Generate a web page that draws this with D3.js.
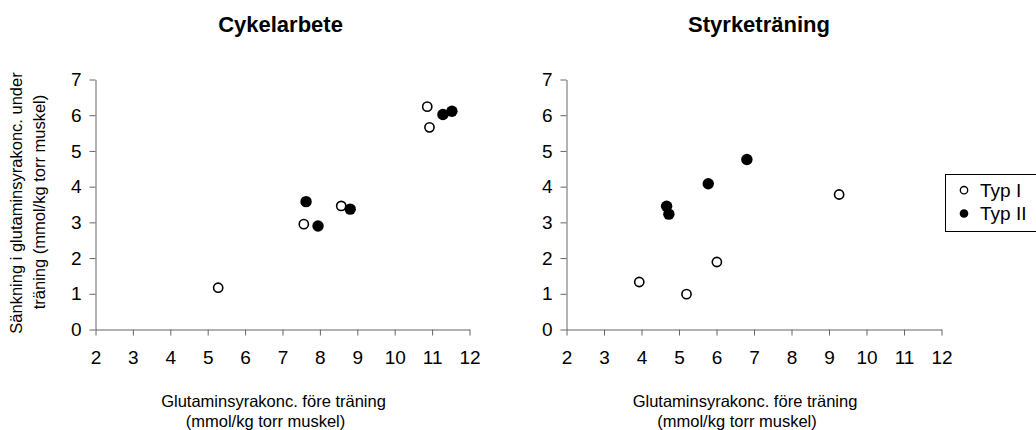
<!DOCTYPE html>
<html>
<head>
<meta charset="utf-8">
<script src="https://cdn.jsdelivr.net/npm/d3@7"></script>
<style>
  html, body { margin: 0; padding: 0; background: #fff; }
  svg { display: block; font-family: "Liberation Sans", Arial, sans-serif; }
</style>
</head>
<body>
<svg id="chart" width="1036" height="430"></svg>
<script>
// ---- data ----
const xTicks = [2, 3, 4, 5, 6, 7, 8, 9, 10, 11, 12];
const yTicks = [0, 1, 2, 3, 4, 5, 6, 7];
const panelTitles = ["Cykelarbete", "Styrketräning"];
const seriesNames = ["Typ I", "Typ II"];
const xTitleLines = ["Glutaminsyrakonc. före träning", "(mmol/kg torr muskel)"];
const yTitleLines = ["Sänkning i glutaminsyrakonc. under", "träning (mmol/kg torr muskel)"];

const cykelTypIX  = [5.28, 7.57, 8.57, 10.87, 10.93];
const cykelTypIY  = [1.17, 2.95, 3.46, 6.24, 5.66];
const cykelTypIIX = [7.63, 7.95, 8.81, 11.29, 11.53];
const cykelTypIIY = [3.58, 2.90, 3.37, 6.02, 6.11];

const styrkeTypIX  = [3.94, 5.20, 6.01, 9.27];
const styrkeTypIY  = [1.33, 0.99, 1.89, 3.78];
const styrkeTypIIX = [4.67, 4.73, 5.78, 6.81];
const styrkeTypIIY = [3.45, 3.23, 4.08, 4.76];

// ---- layout ----
const svg = d3.select("#chart");
const axisColor = "#666";
const panels = [
  { title: panelTitles[0], x0: 95.5, x1: 469.5, typI: [cykelTypIX, cykelTypIY], typII: [cykelTypIIX, cykelTypIIY], titleDx: -2, showYTitle: true },
  { title: panelTitles[1], x0: 566.5, x1: 941.5, typI: [styrkeTypIX, styrkeTypIY], typII: [styrkeTypIIX, styrkeTypIIY], titleDx: 5, showYTitle: false }
];
const yTop = 79.5, yBottom = 329.5;

panels.forEach(p => {
  const x = d3.scaleLinear().domain([2, 12]).range([p.x0, p.x1]);
  const y = d3.scaleLinear().domain([0, 7]).range([yBottom, yTop]);
  const g = svg.append("g");

  // axes
  const xAxis = d3.axisBottom(x).tickValues(xTicks).tickFormat(d3.format("d"))
    .tickSize(6).tickSizeOuter(0).tickPadding(15);
  const yAxis = d3.axisLeft(y).tickValues(yTicks).tickFormat(d3.format("d"))
    .tickSize(6).tickSizeOuter(0).tickPadding(8);

  const gx = g.append("g").attr("transform", `translate(0,${yBottom})`).call(xAxis);
  const gy = g.append("g").attr("transform", `translate(${p.x0},0)`).call(yAxis);
  [gx, gy].forEach(a => {
    a.select(".domain").attr("stroke", axisColor).attr("stroke-width", 1);
    a.selectAll(".tick line").attr("stroke", axisColor).attr("stroke-width", 1);
    a.selectAll(".tick text").attr("fill", "#000").style("font-size", "19px")
      .style("font-family", '"Liberation Sans", Arial, sans-serif');
  });

  const mid = (p.x0 + p.x1) / 2;
  // title
  g.append("text").attr("x", mid + p.titleDx).attr("y", 32)
    .attr("text-anchor", "middle").style("font-size", "22px").style("font-weight", "bold")
    .text(p.title);

  // x title
  g.append("text").attr("x", mid - 9).attr("y", 407).attr("text-anchor", "middle")
    .style("font-size", "16.5px").text(xTitleLines[0]);
  g.append("text").attr("x", mid - 17).attr("y", 426.5).attr("text-anchor", "middle")
    .style("font-size", "16.5px").text(xTitleLines[1]);

  if (p.showYTitle) {
    g.append("text").attr("transform", "translate(21.8,203) rotate(-90)")
      .attr("text-anchor", "middle").style("font-size", "16.5px").text(yTitleLines[0]);
    g.append("text").attr("transform", "translate(44.5,202) rotate(-90)")
      .attr("text-anchor", "middle").style("font-size", "16.5px").text(yTitleLines[1]);
  }

  // points
  const open = p.typI[0].map((v, i) => [v, p.typI[1][i]]);
  const filled = p.typII[0].map((v, i) => [v, p.typII[1][i]]);
  g.selectAll("circle.typI").data(open).join("circle").attr("class", "typI")
    .attr("cx", d => x(d[0])).attr("cy", d => y(d[1])).attr("r", 4.6)
    .attr("fill", "#fff").attr("stroke", "#000").attr("stroke-width", 1.6);
  g.selectAll("circle.typII").data(filled).join("circle").attr("class", "typII")
    .attr("cx", d => x(d[0])).attr("cy", d => y(d[1])).attr("r", 5.7)
    .attr("fill", "#000");
});

// legend
const lg = svg.append("g");
lg.append("rect").attr("x", 945.5).attr("y", 174.5).attr("width", 100).attr("height", 57)
  .attr("fill", "#fff").attr("stroke", "#000").attr("stroke-width", 1);
seriesNames.forEach((name, i) => {
  const base = 196.7 + i * 23.3;
  lg.append("circle").attr("cx", 964).attr("cy", base - 6.5).attr("r", i === 0 ? 3.7 : 4.3)
    .attr("fill", i === 0 ? "#fff" : "#000").attr("stroke", "#000").attr("stroke-width", i === 0 ? 1.3 : 0);
  lg.append("text").attr("x", 980).attr("y", base).style("font-size", "19px").text(name);
});
</script>
</body>
</html>
